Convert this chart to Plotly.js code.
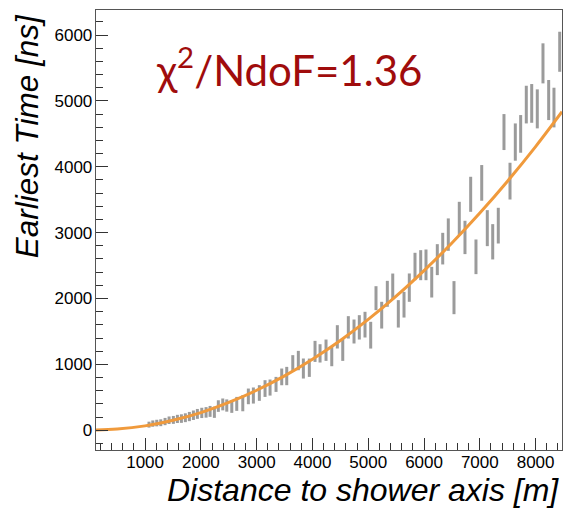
<!DOCTYPE html>
<html>
<head>
<meta charset="utf-8">
<script src="https://cdn.plot.ly/plotly-3.0.1.min.js"></script>
<style>html,body{margin:0;padding:0;background:#fff;}#chart{width:568px;height:511px;}</style>
</head>
<body>
<div id="chart"></div>
<script>
// Measured points: distance to shower axis [m], earliest time [ns], error [ns]
const distance = [1070, 1138, 1209, 1281, 1358, 1430, 1507, 1579, 1651, 1722,
  1794, 1866, 1937, 2016, 2093, 2165, 2242, 2313, 2392, 2464,
  2554, 2643, 2751, 2851, 2941, 3048, 3150, 3240, 3347, 3449,
  3539, 3647, 3747, 3837, 3944, 4046, 4136, 4243, 4346, 4446,
  4543, 4643, 4745, 4840, 4942, 5044, 5139, 5241, 5342, 5439,
  5539, 5641, 5736, 5838, 5940, 6035, 6138, 6238, 6335, 6435,
  6537, 6632, 6734, 6836, 6931, 7034, 7134, 7231, 7331, 7433,
  7541, 7636, 7732, 7833, 7930, 8030, 8132, 8234, 8329, 8432];
const earliestTime = [85, 101, 109, 114, 132, 152, 157, 172, 177, 190,
  208, 228, 248, 263, 271, 286, 273, 367, 392, 375,
  360, 400, 410, 514, 527, 565, 633, 648, 696, 810,
  823, 1013, 1058, 937, 949, 1197, 1167, 1215, 1124, 1418,
  1223, 1562, 1499, 1562, 1603, 1443, 2005, 1747, 2071, 2182,
  1767, 1906, 2165, 2486, 2506, 2511, 2248, 2590, 2757, 2970,
  2013, 3215, 2927, 3582, 2633, 3755, 3068, 2861, 3106, 4527,
  3782, 4375, 4499, 4944, 4962, 4879, 5570, 5013, 4899, 5746];
const timeError = [45, 48, 50, 52, 55, 57, 60, 62, 65, 67,
  70, 72, 75, 78, 80, 83, 85, 88, 90, 93,
  96, 106, 122, 119, 122, 119, 127, 122, 114, 127,
  139, 127, 147, 152, 139, 160, 139, 162, 152, 177,
  170, 170, 182, 185, 195, 203, 182, 203, 197, 197,
  208, 195, 215, 208, 228, 233, 233, 235, 240, 246,
  251, 253, 253, 266, 263, 271, 273, 268, 271, 273,
  279, 283, 286, 286, 294, 296, 304, 304, 301, 304];

// Fit curve
const fitDistance = [120, 500, 1000, 1500, 2000, 2500, 3000, 3500, 4000, 4500,
  5000, 5500, 6000, 6500, 7000, 7500, 8000, 8473];
const fitTime = [5, 18, 66, 152, 268, 422, 607, 825, 1078, 1362,
  1682, 2036, 2424, 2843, 3297, 3785, 4306, 4835];

const xTitle = "Distance to shower axis [m]";
const yTitle = "Earliest Time [ns]";
const fitLabel = "χ<sup>2</sup>/NdoF=1.36";

const axisCommon = {
  showgrid: false, zeroline: false,
  showline: true, linecolor: '#555', linewidth: 1.3, mirror: true,
  ticks: 'inside', ticklen: 12, tickwidth: 1, tickcolor: '#333',
  tickfont: {family: 'Liberation Sans, Arial, sans-serif', size: 17, color: '#000'},
  minor: {ticks: 'inside', ticklen: 7, tickwidth: 1, tickcolor: '#333', dtick: 200}
};

const data = [
  {
    x: distance, y: earliestTime, type: 'scatter', mode: 'markers',
    marker: {size: 1, color: 'rgba(150,150,150,0)'},
    error_y: {type: 'data', array: timeError, visible: true, width: 0, thickness: 3, color: '#9b9b9b'},
    hoverinfo: 'x+y', showlegend: false
  },
  {
    x: fitDistance, y: fitTime, type: 'scatter', mode: 'lines',
    line: {color: '#f09a3c', width: 3, shape: 'spline'},
    showlegend: false
  }
];

const layout = {
  width: 568, height: 511,
  margin: {l: 96, r: 6, t: 10, b: 61},
  paper_bgcolor: '#fff', plot_bgcolor: '#fff',
  showlegend: false,
  xaxis: Object.assign({}, axisCommon, {range: [120, 8473], dtick: 1000, tick0: 0, ticklabelstandoff: -4}),
  yaxis: Object.assign({}, axisCommon, {range: [-300, 6380], dtick: 1000, tick0: 0, ticklabelstandoff: -1}),
  annotations: [
    {text: xTitle, xref: 'paper', yref: 'paper', x: 0.998, y: -0.091,
     xanchor: 'right', yanchor: 'middle', showarrow: false,
     font: {family: 'Liberation Sans, Arial, sans-serif', size: 32, color: '#000', style: 'italic'}},
    {text: yTitle, xref: 'paper', yref: 'paper', x: -0.148, y: 0.995,
     xanchor: 'center', yanchor: 'top', textangle: -90, showarrow: false,
     font: {family: 'Liberation Sans, Arial, sans-serif', size: 31.5, color: '#000', style: 'italic'}},
    {text: fitLabel, xref: 'paper', yref: 'paper', x: 0.125, y: 0.870,
     xanchor: 'left', yanchor: 'middle', showarrow: false,
     font: {family: 'Lato, Open Sans, sans-serif', size: 42, color: '#a00c0c'}}
  ]
};

Plotly.newPlot('chart', data, layout, {displayModeBar: false, staticPlot: true});
</script>
</body>
</html>
